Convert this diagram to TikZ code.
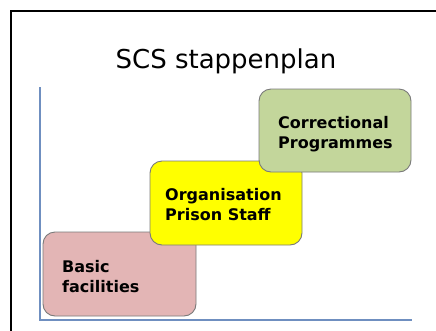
\documentclass[tikz,border=0pt]{standalone}
\usepackage{fontspec}
\setmainfont{DejaVu Sans}
\definecolor{pinkbox}{HTML}{E3B5B5}
\definecolor{yelbox}{HTML}{FFFF00}
\definecolor{greenbox}{HTML}{C3D69B}
\definecolor{axisblue}{HTML}{6F8FC0}
\definecolor{boxline}{HTML}{7A7A7A}
\tikzset{
  stepbox/.style={draw=boxline, line width=0.9pt, rounded corners=12pt},
  steptext/.style={anchor=base west, font=\bfseries\fontsize{16}{19.5}\selectfont, align=left, inner sep=0pt},
}
\begin{document}
\begin{tikzpicture}[x=1pt,y=-1pt]
\useasboundingbox (0,0) rectangle (436,330);
\fill[white] (0,0) rectangle (436,330);
% frame
\draw[line width=2.4pt, black] (11,340) -- (11,11) -- (445,11);
% title
\node[font=\fontsize{26}{30}\selectfont, anchor=base, inner sep=0pt] (title) at (226,68) {SCS stappenplan};
% axes
\coordinate (ytop) at (40,87);
\coordinate (origin) at (40,320);
\coordinate (xend) at (412,320);
\draw[axisblue, line width=1.6pt] (ytop) -- (origin) -- (xend);
% boxes
\filldraw[stepbox, fill=pinkbox] (43,232) rectangle (196,316);
\filldraw[stepbox, fill=yelbox] (150,161) rectangle (302,245);
\filldraw[stepbox, fill=greenbox] (259,89) rectangle (411,172);
\node[steptext] (basic) at (62,292) {Basic\\facilities};
\node[steptext] (org) at (165,220) {Organisation\\Prison Staff};
\node[steptext] (corr) at (278,148) {Correctional\\Programmes};
\end{tikzpicture}
\end{document}
